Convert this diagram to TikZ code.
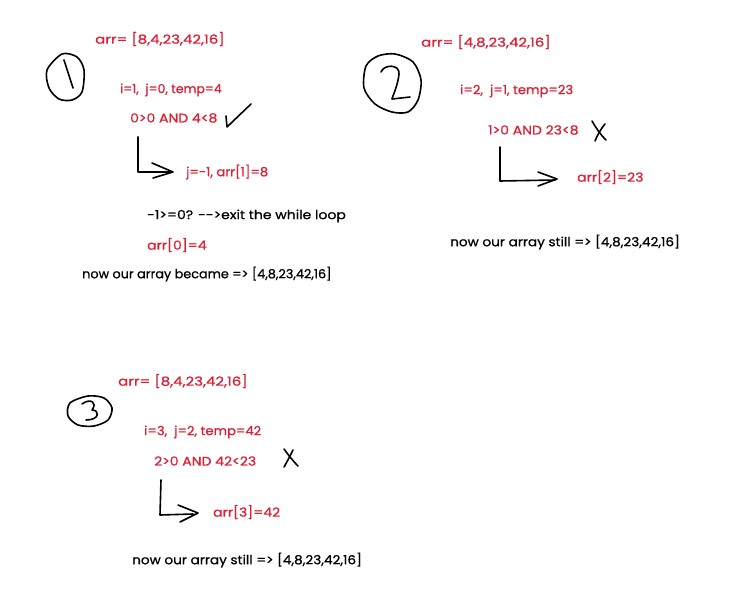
\documentclass[tikz,border=0pt]{standalone}
\usepackage{fontspec}
\setmainfont{Poppins}
\newfontfamily\fA[FakeBold=0.8]{Poppins}
\newfontfamily\fAB[FakeStretch=1.025,FakeBold=0.8]{Poppins}
\newfontfamily\fB[FakeStretch=1.05,FakeBold=0.8]{Poppins}
\newfontfamily\fBC[FakeStretch=1.09,FakeBold=0.8]{Poppins}
\newfontfamily\fC[FakeStretch=1.12,FakeBold=0.8]{Poppins}
\newfontfamily\fD[FakeStretch=1.2,FakeBold=0.8]{Poppins}
\usetikzlibrary{calc}
\definecolor{inkred}{RGB}{222,32,52}
\tikzset{
  redtxt/.style={text=inkred, anchor=west, inner sep=0pt, font=\fontsize{12.5}{14}\selectfont},
  blktxt/.style={text=black, anchor=west, inner sep=0pt, font=\fontsize{12.5}{14}\selectfont},
  pen/.style={draw=black, line width=1.6pt, line cap=round, line join=round},
}
\begin{document}
\begin{tikzpicture}[x=1pt,y=-1pt]
\useasboundingbox (0,0) rectangle (751,599);
\fill[white] (0,0) rectangle (751,599);

% ---------- panel 1 ----------
\node[redtxt] (a1) at (95,39) {\fD arr= [8,4,23,42,16]};
\node[redtxt] (v1) at (120,90) {\fA i=1,\ \ j=0, temp=4};
\node[redtxt] (c1) at (130,118) {\fC 0>0 AND 4<8};
\node[redtxt] (r1) at (186,172) {\fB j=-1, arr[1]=8};
\node[blktxt] (e1) at (147,216) {\fC -1>=0? -->exit the while loop};
\node[redtxt] (s1) at (147,245) {\fC arr[0]=4};
\node[blktxt] (n1) at (82,274) {\fAB now our array became => [4,8,23,42,16]};
% circled 1
\draw[pen] plot[smooth cycle] coordinates {(62,54) (77,57) (84,70) (82,92) (72,100) (59,99) (49,88) (47,70)};
\draw[pen] (64,60) -- (73,88);
% check mark
\draw[pen] (226,116) -- (227,127) -- (251,104);
% L arrow
\coordinate (l1a) at ($(c1.south west)+(8,14)$);
\coordinate (l1b) at ($(l1a |- r1.west)$);
\draw[pen] (l1a) -- (l1b) -- ($(r1.west)+(-16,0)$);
\draw[pen] ($(r1.west)+(-34,-9)$) -- ($(r1.west)+(-13,0)$) -- ($(r1.west)+(-33,6)$);

% ---------- panel 2 ----------
\node[redtxt] (a2) at (421,42) {\fD arr= [4,8,23,42,16]};
\node[redtxt] (v2) at (460,91) {\fB i=2,\ \ j=1, temp=23};
\node[redtxt] (c2) at (488,130) {\fC 1>0 AND 23<8};
\node[redtxt] (r2) at (577,177) {\fC arr[2]=23};
\node[blktxt] (n2) at (450,242) {\fBC now our array still => [4,8,23,42,16]};
% circled 2
\draw[pen] plot[smooth cycle] coordinates {(395,54) (413,62) (421,80) (418,100) (408,112) (392,112) (375,104) (364,88) (366,66) (378,56)};
\draw[pen] (381,72) .. controls (384,64) and (400,64) .. (399,74) .. controls (398,85) and (393,95) .. (392,99) -- (410,97);
% X mark
\draw[pen] (592,121) .. controls (596,128) and (600,134) .. (606,140);
\draw[pen] (605,124) .. controls (600,130) and (597,136) .. (595,141);
% L arrow
\coordinate (l2a) at ($(c2.south west)+(12,12)$);
\coordinate (l2b) at ($(l2a |- r2.west)+(0,4)$);
\draw[pen] (l2a) -- (l2b) -- ($(r2.west)+(-22,3)$);
\draw[pen] ($(r2.west)+(-39,-5)$) -- ($(r2.west)+(-20,2)$) -- ($(r2.west)+(-39,9)$);

% ---------- panel 3 ----------
\node[redtxt] (a3) at (118,381) {\fD arr= [8,4,23,42,16]};
\node[redtxt] (v3) at (144,432) {\fB i=3,\ \ j=2, temp=42};
\node[redtxt] (c3) at (154,461) {\fC 2>0 AND 42<23};
\node[redtxt] (r3) at (213,512) {\fC arr[3]=42};
\node[blktxt] (n3) at (132,560) {\fBC now our array still => [4,8,23,42,16]};
% circled 3
\draw[pen] plot[smooth cycle] coordinates {(88,396) (104,398) (112,408) (108,420) (94,426) (78,425) (68,416) (70,403)};
\draw[pen] (82,404) .. controls (90,398) and (98,402) .. (92,410) .. controls (100,410) and (100,420) .. (86,420);
% X mark
\draw[pen] (284,449) .. controls (289,456) and (294,462) .. (298,466);
\draw[pen] (293,450) .. controls (290,456) and (287,462) .. (284,467);
% L arrow
\coordinate (l3a) at ($(c3.south west)+(7,14)$);
\coordinate (l3b) at ($(l3a |- r3.west)+(-1,3)$);
\draw[pen] (l3a) -- (l3b) -- ($(r3.west)+(-20,2)$);
\draw[pen] ($(r3.west)+(-35,-7)$) -- ($(r3.west)+(-15,1)$) -- ($(r3.west)+(-33,10)$);
\end{tikzpicture}
\end{document}
